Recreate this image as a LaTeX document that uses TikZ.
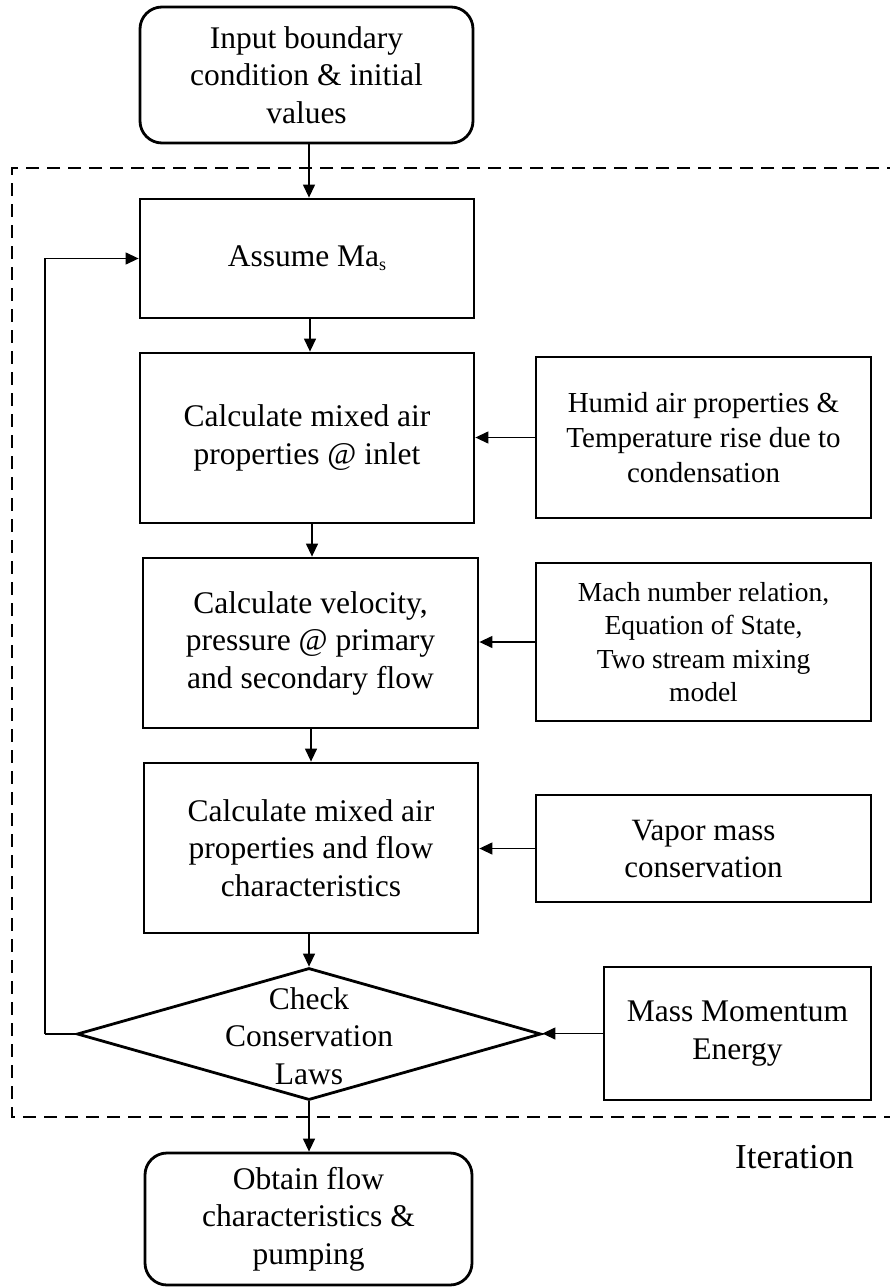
\documentclass[tikz,border=0pt]{standalone}
\usepackage{fontspec}
\setmainfont{Liberation Serif}
\usetikzlibrary{arrows.meta,shapes.geometric}
\begin{document}
\begin{tikzpicture}[x=1pt,y=-1pt,
  box/.style={draw, line width=2.8pt, align=center, inner sep=0pt},
  rbox/.style={box, rounded corners=22pt},
  fmain/.style={font=\fontsize{31.5}{37.5}\selectfont},
  arr/.style={line width=1.3pt, -{Triangle[length=13pt,width=12pt]}},
  link/.style={line width=1.3pt},
  dashedframe/.style={line width=2.7pt, dash pattern=on 13pt off 8pt}
]
\useasboundingbox (0,0) rectangle (890,1287);

% dashed iteration frame
\draw[dashedframe] (900,168) -- (12,168) -- (12,1117) -- (900,1117);

% main column
\node[rbox, fmain, minimum width=333pt, minimum height=136pt] (top) at (306.5,75)
  {Input boundary\\condition \& initial\\values};
\node[box, fmain, minimum width=334pt, minimum height=119pt] (assume) at (307,258.5)
  {Assume Ma{\fontsize{18}{18}\selectfont\raisebox{-4pt}{s}}};
\node[box, fmain, minimum width=334pt, minimum height=170pt] (inlet) at (307,438)
  {Calculate mixed air\\properties @ inlet};
\node[box, fmain, minimum width=335pt, minimum height=170pt] (vel) at (310.5,643)
  {Calculate velocity,\\pressure @ primary\\and secondary flow};
\node[box, fmain, minimum width=334pt, minimum height=170pt] (char) at (311,848)
  {Calculate mixed air\\properties and flow\\characteristics};
\node[diamond, draw, line width=2.8pt, minimum width=464pt, minimum height=132pt, inner sep=0pt] (dia) at (309,1034) {};
\node[fmain, align=center, inner sep=0pt] (diatext) at (309,1036) {Check\\Conservation\\Laws};
\node[rbox, fmain, minimum width=327pt, minimum height=132pt] (bottom) at (308.5,1219)
  {Obtain flow\\characteristics \&\\pumping};

% right column
\node[box, font=\fontsize{29}{35}\selectfont, minimum width=335pt, minimum height=161pt] (humid) at (703.5,437.5)
  {Humid air properties \&\\Temperature rise due to\\condensation};
\node[box, font=\fontsize{27.5}{33.5}\selectfont, minimum width=335pt, minimum height=158pt] (mach) at (703.5,642)
  {Mach number relation,\\Equation of State,\\Two stream mixing\\model};
\node[box, font=\fontsize{31}{37}\selectfont, minimum width=335pt, minimum height=107pt] (vapor) at (703.5,848.5)
  {Vapor mass\\conservation};
\node[box, fmain, minimum width=267pt, minimum height=133pt] (mass) at (737.5,1033.5)
  {Mass Momentum\\Energy};

\node[font=\fontsize{35}{40}\selectfont, anchor=base, inner sep=0pt] (iter) at (794.5,1168) {Iteration};

% vertical flow
\draw[arr] (309,0 |- top.south) coordinate (t1) -- (t1 |- assume.north);
\draw[arr] (310,0 |- assume.south) coordinate (t2) -- (t2 |- inlet.north);
\draw[arr] (312,0 |- inlet.south) coordinate (t3) -- (t3 |- vel.north);
\draw[arr] (311,0 |- vel.south) coordinate (t4) -- (t4 |- char.north);
\draw[arr] (char.south -| dia.north) -- (dia.north);
\draw[arr] (dia.south) -- (dia.south |- bottom.north);

% side inputs
\draw[arr] (humid.west) -- (humid.west -| inlet.east);
\draw[arr] (mach.west) -- (mach.west -| vel.east);
\draw[arr] (vapor.west) -- (vapor.west -| char.east);
\draw[arr] (mass.west) -- (mass.west -| dia.east);

% feedback loop
\coordinate (fb) at (45,1034);
\draw[link] (dia.west) -- (fb);
\draw[arr] (fb) |- (assume.west);
\end{tikzpicture}
\end{document}
